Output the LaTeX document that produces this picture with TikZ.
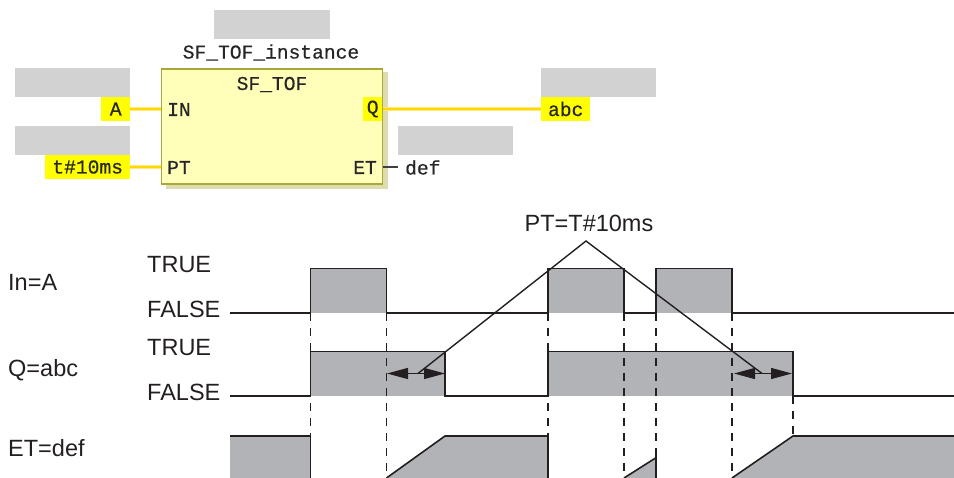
\documentclass[tikz,border=0pt]{standalone}
\usetikzlibrary{arrows.meta}
\usepackage{fontspec}
\setmainfont{Liberation Sans}
\newfontfamily\plcfont[FakeBold=0.5]{Liberation Mono}
\definecolor{ph}{HTML}{D2D2D2}
\definecolor{sig}{HTML}{B1B3B6}
\definecolor{ink}{HTML}{231F20}
\definecolor{blk}{HTML}{FFFFB9}
\definecolor{blkedge}{HTML}{A9A838}
\definecolor{blkshade}{HTML}{DCDCB0}
\definecolor{hl}{HTML}{FFFF00}
\definecolor{wirec}{HTML}{FFD800}
\definecolor{wireo}{HTML}{FFE97A}
\begin{document}
\begin{tikzpicture}[x=1pt,y=-1pt,
  hlbox/.style={fill=hl,draw=none,inner sep=0pt,minimum height=24pt,font=\plcfont\fontsize{19.6}{20}\selectfont,text=black!85},
  plc/.style={font=\plcfont\fontsize{19.6}{20}\selectfont,text=black!85,inner sep=0pt},
  lab/.style={font=\fontsize{23.5}{24}\selectfont,text=ink,inner sep=0pt,anchor=base west},
  wire/.style={draw=wireo,line width=4.6pt,postaction={draw=wirec,line width=2.6pt}},
  sigline/.style={draw=ink,line width=1.6pt,line join=miter},
  guide/.style={draw=ink,line width=1.4pt,dash pattern=on 8pt off 7pt},
  call/.style={draw=ink,line width=1.4pt},
  span/.style={draw=ink,line width=1.4pt,{Triangle[length=21pt,width=11pt]}-{Triangle[length=21pt,width=11pt]}}]
\useasboundingbox (0,0) rectangle (954,478);
% placeholders
\fill[ph] (214,10) rectangle (329.5,39);
\fill[ph] (15,68) rectangle (130,97);
\fill[ph] (15,126) rectangle (130,155);
\fill[ph] (541,68) rectangle (656,97);
\fill[ph] (398.3,126) rectangle (513.3,155);
% function block
\fill[blkshade] (166,72) -- (388,72) -- (388,189.5) -- (166,189.5) -- cycle;
\node[draw=blkedge,fill=blk,line width=1.3pt,minimum width=221pt,minimum height=115pt,inner sep=0pt] (fb) at (272.2,126.5) {};
\node[plc] (inst) at (271,52.5) {SF\_TOF\_instance};
\node[plc] (title) at (272,84.5) {SF\_TOF};
\node[plc,anchor=west] (pin) at (167,109.5) {IN};
\node[plc,anchor=west] (ppt) at (167,167.5) {PT};
\node[hlbox,minimum width=19.5pt] (pq) at (372.7,109) {Q};
\node[plc,anchor=east] (pet) at (377,167.5) {ET};
\node[hlbox,minimum width=28.5pt] (va) at (115.7,109) {A};
\node[hlbox,minimum width=84.5pt] (vt) at (87.7,167) {t\#10ms};
\node[hlbox,minimum width=49.5pt] (vabc) at (565.7,109) {abc};
\node[plc,anchor=west] (vdef) at (405,167.5) {def};
\draw[wire] (va.east) -- (va.east -| fb.west);
\draw[wire] (vt.east) -- (vt.east -| fb.west);
\draw[wire] (pq.east) -- (vabc.west);
\draw[draw=black!75,line width=1.2pt] (fb.east |- vt.east) -- (398,167);
% row labels
\node[lab] (l1) at (8,291) {In=A};
\node[lab] (l2) at (8,376.7) {Q=abc};
\node[lab] (l3) at (8,456.7) {ET=def};
\node[lab] (t1) at (147,273) {TRUE};
\node[lab] (f1) at (147,318) {FALSE};
\node[lab] (t2) at (147,356) {TRUE};
\node[lab] (f2) at (147,401) {FALSE};
\node[lab,anchor=base] (ptl) at (589,232) {PT=T\#10ms};
% fills
\fill[sig] (310.5,268.5) rectangle (386.5,313);
\fill[sig] (548,268.5) rectangle (624,313);
\fill[sig] (656,268.5) rectangle (732,313);
\fill[sig] (310.5,351.5) rectangle (445,396);
\fill[sig] (548,351.5) rectangle (793,396);
\fill[sig] (230,436) rectangle (310.5,478);
\fill[sig] (386.5,478) -- (445,436) -- (548,436) -- (548,478) -- cycle;
\fill[sig] (624,478) -- (656,457.7) -- (656,478) -- cycle;
\fill[sig] (732,478) -- (793,436) -- (954,436) -- (954,478) -- cycle;
% guides
\foreach \x/\yy in {310.5/436,386.5/478,548/436,624/478,656/458,732/478}
  \draw[guide] (\x,313) -- (\x,\yy);
\draw[guide] (793,396) -- (793,436);
% signals
\draw[sigline] (230,313) -- (310.5,313) -- (310.5,268.5) -- (386.5,268.5) -- (386.5,313) -- (548,313) -- (548,268.5) -- (624,268.5) -- (624,313) -- (656,313) -- (656,268.5) -- (732,268.5) -- (732,313) -- (954,313);
\draw[sigline] (230,396) -- (310.5,396) -- (310.5,351.5) -- (445,351.5) -- (445,396) -- (548,396) -- (548,351.5) -- (793,351.5) -- (793,396) -- (954,396);
\draw[sigline] (230,436) -- (310.5,436) -- (310.5,478);
\draw[sigline] (386.5,478) -- (445,436) -- (548,436) -- (548,478);
\draw[sigline] (624,478) -- (656,457.7);
\draw[sigline] (656,450) -- (656,478);
\draw[sigline] (732,478) -- (793,436) -- (954,436);
% callout
\coordinate (apex) at (586,241);
\coordinate (c1) at (418,373.5);
\coordinate (c2) at (762,373.5);
\draw[call] (c1) -- (apex) -- (c2);
\coordinate (a1) at (387,373.5);
\coordinate (a2) at (445,373.5);
\coordinate (a3) at (734,373.5);
\coordinate (a4) at (792,373.5);
\draw[span] (a1) -- (a2);
\draw[span] (a3) -- (a4);
\end{tikzpicture}
\end{document}
